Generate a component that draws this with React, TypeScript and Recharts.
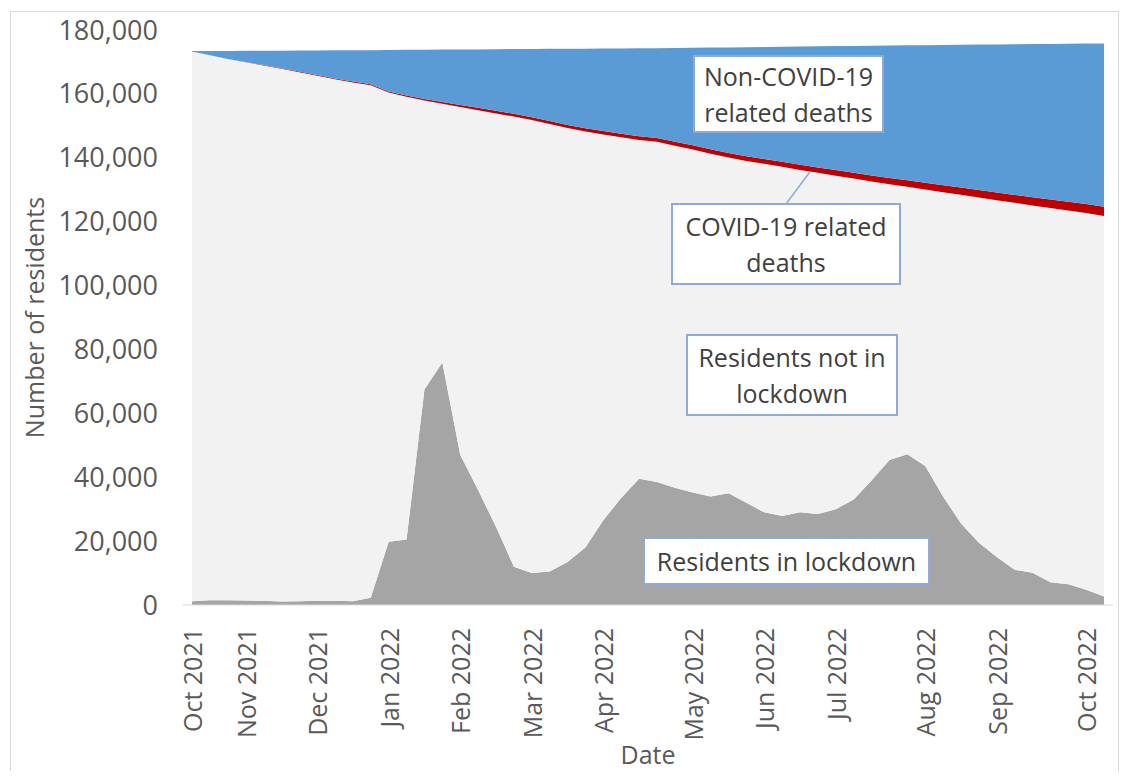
import React from 'react';
import { AreaChart, Area, XAxis, YAxis, Label } from 'recharts';

// one category per week, Oct 2021 – Oct 2022
const weeks = Array.from({ length: 52 }, (_, i) => i);

const labelWeeks = [0, 3, 7, 11, 15, 19, 23, 28, 32, 36, 41, 45, 50];
const labelTexts = [
  'Oct 2021', 'Nov 2021', 'Dec 2021', 'Jan 2022', 'Feb 2022', 'Mar 2022', 'Apr 2022',
  'May 2022', 'Jun 2022', 'Jul 2022', 'Aug 2022', 'Sep 2022', 'Oct 2022',
];

const inLockdown = [
  1200, 1500, 1500, 1400, 1300, 1100, 1200, 1300, 1300, 1200,
  2300, 19800, 20500, 67500, 75900, 47000, 36000, 24500, 12000, 10000,
  10500, 13500, 18000, 26500, 33500, 39500, 38500, 36700, 35200, 34000,
  35000, 32000, 29000, 27900, 29000, 28500, 30000, 33000, 39000, 45400,
  47200, 43500, 34000, 25500, 19500, 15000, 11000, 10100, 7100, 6500,
  4800, 2700,
];

const notInLockdown = [
  172100, 170600, 169400, 168500, 167600, 166800, 165600, 164400, 163300, 162400,
  160400, 140600, 138600, 90400, 81000, 108900, 118900, 129400, 140900, 141800,
  140100, 135800, 130200, 120800, 112900, 106100, 106500, 107100, 107400, 107300,
  105100, 107000, 109100, 109300, 107200, 106800, 104400, 100500, 93600, 86300,
  83700, 86600, 95200, 102900, 108100, 111700, 114900, 115000, 117200, 117000,
  117900, 119100,
];

const covidDeaths = [
  0, 20, 50, 80, 110, 140, 170, 200, 230, 260,
  290, 330, 390, 470, 560, 650, 730, 800, 860, 910,
  950, 990, 1030, 1070, 1110, 1150, 1190, 1240, 1300, 1360,
  1420, 1480, 1540, 1590, 1640, 1690, 1740, 1800, 1870, 1950,
  2030, 2110, 2190, 2270, 2340, 2410, 2480, 2550, 2620, 2700,
  2800, 2900,
];

const nonCovidDeaths = [
  100, 1300, 2500, 3500, 4500, 5500, 6600, 7700, 8800, 9800,
  10700, 13000, 14300, 15450, 16400, 17350, 18300, 19300, 20300, 21350,
  22550, 23840, 24930, 25820, 26710, 27500, 28110, 29320, 30520, 31830,
  33040, 34150, 35060, 35980, 37000, 37910, 38820, 39720, 40610, 41490,
  42270, 43050, 43930, 44710, 45500, 46390, 47170, 47950, 48730, 49500,
  50250, 51100,
];

const yTicks = [0, 20000, 40000, 60000, 80000, 100000, 120000, 140000, 160000, 180000];

const data = weeks.map((w, i) => ({
  week: w,
  inLockdown: inLockdown[i],
  notInLockdown: notInLockdown[i],
  covid: covidDeaths[i],
  nonCovid: nonCovidDeaths[i],
}));

// tick marks sit between the weekly categories
const boundaryTicks = [...weeks.map((w) => w - 0.5), weeks.length - 0.5];

const FONT = '"Open Sans", sans-serif';
const TEXT = '#595959';

const MonthTick = (props: any) => {
  const { x, y, payload } = props;
  const idx = labelWeeks.indexOf(payload.value);
  if (idx < 0) return null;
  return (
    <text
      x={x}
      y={y}
      transform={`rotate(-90, ${x}, ${y})`}
      textAnchor="end"
      dominantBaseline="central"
      fill={TEXT}
      fontSize={25}
      fontFamily={FONT}
    >
      {labelTexts[idx]}
    </text>
  );
};

const boxStyle: React.CSSProperties = {
  position: 'absolute',
  boxSizing: 'border-box',
  background: '#fff',
  border: '2px solid #8eaadb',
  color: '#404040',
  fontSize: 25,
  lineHeight: '36px',
  textAlign: 'center',
  display: 'flex',
  alignItems: 'center',
  justifyContent: 'center',
  fontFamily: FONT,
};

const App = () => {
  return (
    <div style={{ position: 'relative', width: 1120, height: 763, fontFamily: FONT }}>
      <div
        style={{
          position: 'absolute', left: 2, top: 3, width: 1107, height: 760,
          borderTop: '1px solid #d9d9d9', borderLeft: '1px solid #d9d9d9', borderRight: '1px solid #d9d9d9',
        }}
      />
      <AreaChart
        width={1120}
        height={763}
        data={data}
        margin={{ top: 22, right: 15, bottom: 0, left: 10 }}
        style={{ position: 'absolute', left: 0, top: 0 }}
      >
        <XAxis
          dataKey="week"
          type="number"
          domain={[-0.5, 51.5]}
          ticks={boundaryTicks}
          interval={0}
          tick={false}
          tickSize={8}
          height={8}
          stroke="#d9d9d9"
        />
        <XAxis
          xAxisId="labels"
          dataKey="week"
          type="number"
          domain={[-0.5, 51.5]}
          ticks={labelWeeks}
          interval={0}
          tick={<MonthTick />}
          tickLine={false}
          axisLine={false}
          tickSize={0}
          tickMargin={15}
          height={158}
        >
          <Label value="Date" position="insideBottom" offset={7} fill={TEXT} fontSize={25} fontFamily={FONT} />
        </XAxis>
        <YAxis
          domain={[0, 180000]}
          ticks={yTicks}
          interval={0}
          width={165}
          tickLine={false}
          axisLine={false}
          tickSize={0}
          tickMargin={25}
          tickFormatter={(v: number) => v.toLocaleString('en-US')}
          tick={{ fill: TEXT, fontSize: 27, fontFamily: FONT }}
        >
          <Label
            value="Number of residents"
            angle={-90}
            position="insideLeft"
            offset={17}
            fill={TEXT}
            fontSize={25}
            fontFamily={FONT}
            style={{ textAnchor: 'middle' }}
          />
        </YAxis>
        <Area type="linear" dataKey="inLockdown" stackId="a" fill="#a5a5a5" fillOpacity={1} stroke="none" isAnimationActive={false} />
        <Area type="linear" dataKey="notInLockdown" stackId="a" fill="#f2f2f2" fillOpacity={1} stroke="none" isAnimationActive={false} />
        <Area type="linear" dataKey="covid" stackId="a" fill="#c00000" fillOpacity={1} stroke="none" isAnimationActive={false} />
        <Area type="linear" dataKey="nonCovid" stackId="a" fill="#5b9bd5" fillOpacity={1} stroke="none" isAnimationActive={false} />
      </AreaChart>

      <svg width={1120} height={763} style={{ position: 'absolute', left: 0, top: 0, pointerEvents: 'none' }}>
        <line x1={778.7} y1={195} x2={802} y2={163.7} stroke="#8eaadb" strokeWidth={1.5} />
      </svg>

      <div style={{ ...boxStyle, left: 685, top: 47, width: 191, height: 78 }}>Non-COVID-19<br />related deaths</div>
      <div style={{ ...boxStyle, left: 663, top: 195, width: 230, height: 82 }}>COVID-19 related<br />deaths</div>
      <div style={{ ...boxStyle, left: 678, top: 326, width: 212, height: 82 }}>Residents not in<br />lockdown</div>
      <div style={{ ...boxStyle, left: 635, top: 529, width: 287, height: 48 }}>Residents in lockdown</div>
    </div>
  );
};

export default App;
